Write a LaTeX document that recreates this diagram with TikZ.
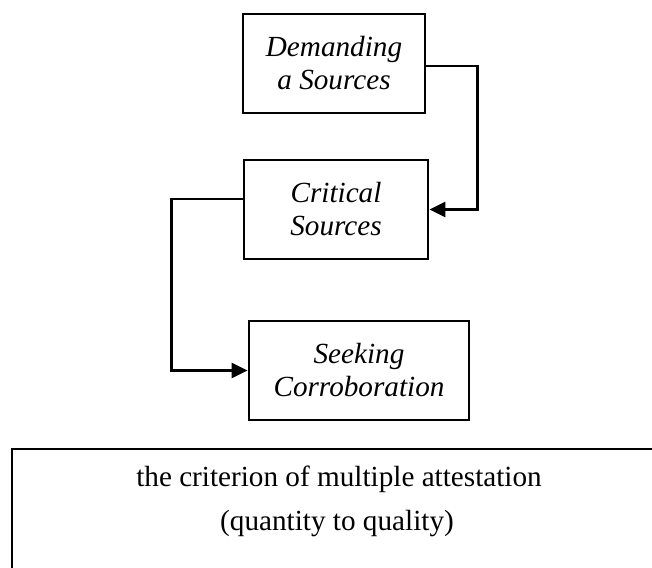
\documentclass[tikz,border=0pt]{standalone}
\usepackage{fontspec}
\setmainfont{Liberation Serif}
\usepackage{tikz}
\usetikzlibrary{arrows.meta}
\usetikzlibrary{positioning}

\begin{document}
\begin{tikzpicture}[x=0.5pt, y=-0.5pt,
    stage/.style={draw, line width=1.4pt, align=center, inner sep=0pt,
        minimum height=49.5pt, font=\fontsize{14.6}{16.5}\selectfont\itshape},
    link/.style={line width=1.3pt, -{Triangle[length=8pt, width=7.5pt]}},
    plain/.style={font=\fontsize{14.6}{16.5}\selectfont, inner sep=0pt}]

\useasboundingbox (0,0) rectangle (652,567);
\clip (0,0) rectangle (652,567);

\begin{scope}
\node[stage, minimum width=91pt] (demand) at (334, 63.5) {Demanding\\a Sources};
\node[stage, minimum width=92pt] (critical) at (336, 209.5) {Critical\\Sources};
\node[stage, minimum width=110pt] (seeking) at (359, 370.5) {Seeking\\Corroboration};

\draw [link] ([yshift=-1.25pt]demand.east) -- ++(51,0) |- (critical.east);
\draw [link] ([yshift=5.25pt]critical.west) -- ++(-71,0) |- (seeking.west);
\end{scope}

\draw[line width=1.4pt] (12,449) rectangle (680,620);
\node[plain, anchor=base] (criterion) at (339,486) {the criterion of multiple attestation};
\node[plain, anchor=base] (ratio) at (337,530) {(quantity to quality)};

\end{tikzpicture}
\end{document}
